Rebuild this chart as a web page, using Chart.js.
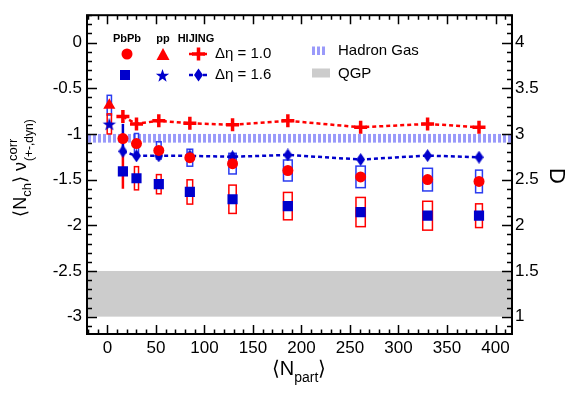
<!DOCTYPE html>
<html>
<head>
<meta charset="utf-8">
<script src="https://cdn.jsdelivr.net/npm/chart.js@4.4.1/dist/chart.umd.min.js"></script>
<style>
  html, body { margin: 0; padding: 0; background: #fff; }
</style>
</head>
<body>
<canvas id="chart" width="581" height="394"></canvas>
<script>
// centrality classes, <Npart> and its uncertainty (box half-width)
const nPart = [16, 30, 53, 85, 129, 186, 261, 330, 383];
const nPartErr = [1.5, 2.1, 2.4, 2.9, 3.8, 4.5, 4.8, 5.0, 3.5];
const ppNpart = [2];
const ppNpartErr = [2.2];

// PbPb, delta eta = 1.0 (red circles) and 1.6 (blue squares)
const pbpbEta10 = [-1.05, -1.105, -1.18, -1.26, -1.325, -1.40, -1.47, -1.50, -1.52];
const pbpbEta10Stat = [0.16, 0.02, 0.02, 0.02, 0.02, 0.02, 0.02, 0.02, 0.02];
const pbpbEta10Sys = [0, 0.11, 0.095, 0.093, 0.113, 0.115, 0.118, 0.124, 0.124];
const pbpbEta16 = [-1.41, -1.485, -1.55, -1.635, -1.715, -1.79, -1.855, -1.895, -1.895];
const pbpbEta16Stat = [0.19, 0.02, 0.02, 0.02, 0.02, 0.02, 0.02, 0.02, 0.02];
const pbpbEta16Sys = [0, 0.127, 0.105, 0.133, 0.155, 0.15, 0.16, 0.158, 0.13];

// pp
const ppEta10 = [-0.685];
const ppEta10Sys = [0.108];
const ppEta16 = [-0.89];
const ppEta16Sys = [0.11];

// HIJING
const hijingEta10 = [-0.81, -0.89, -0.855, -0.884, -0.90, -0.855, -0.927, -0.89, -0.927];
const hijingEta16 = [-1.19, -1.24, -1.24, -1.24, -1.25, -1.23, -1.28, -1.237, -1.255];

// expectations, in D (right axis)
const hadronGasD = [2.905, 3.0];
const qgpD = [1.0, 1.5];

const RED = '#ff0000';
const BLUE = '#0000cc';
const BOXBLUE = '#2a3cf0';
const FONT = "'Liberation Sans', Arial, Helvetica, sans-serif";

const pts = (xs, ys) => xs.map((v, i) => ({ x: v, y: ys[i] }));

function starCanvas(r, color) {
  const c = document.createElement('canvas');
  c.width = c.height = Math.ceil(r * 2 + 2);
  const g = c.getContext('2d');
  drawStar(g, c.width / 2, c.height / 2 + 0.8, r, color);
  return c;
}
function drawStar(g, cx, cy, r, color) {
  g.beginPath();
  for (let i = 0; i < 10; i++) {
    const rr = i % 2 ? r * 0.4 : r;
    const a = -Math.PI / 2 + i * Math.PI / 5;
    g.lineTo(cx + rr * Math.cos(a), cy + rr * Math.sin(a));
  }
  g.closePath();
  g.fillStyle = color;
  g.fill();
}
function diamondCanvas(w, h, color) {
  const c = document.createElement('canvas');
  c.width = w; c.height = h;
  const g = c.getContext('2d');
  drawDiamond(g, w / 2, h / 2, w, h, color);
  return c;
}
function drawDiamond(g, cx, cy, w, h, color) {
  g.beginPath();
  g.moveTo(cx, cy - h / 2);
  g.lineTo(cx + w / 2, cy);
  g.lineTo(cx, cy + h / 2);
  g.lineTo(cx - w / 2, cy);
  g.closePath();
  g.fillStyle = color;
  g.fill();
}

const starImg = starCanvas(7, BLUE);
const diamondImg = diamondCanvas(9, 13, BLUE);

// bands, boxes and error bars, under the markers
const underlay = {
  id: 'underlay',
  beforeDatasetsDraw(chart) {
    const ctx = chart.ctx, a = chart.chartArea;
    const x = chart.scales.x, y = chart.scales.y, y2 = chart.scales.y2;
    ctx.save();

    let t = y2.getPixelForValue(qgpD[1]), b = y2.getPixelForValue(qgpD[0]);
    ctx.fillStyle = '#cccccc';
    ctx.fillRect(a.left, t, a.right - a.left, b - t);

    t = y2.getPixelForValue(hadronGasD[1]);
    b = y2.getPixelForValue(hadronGasD[0]);
    ctx.fillStyle = '#9a9afa';
    for (let px = a.left + 1; px < a.right - 1; px += 5) {
      ctx.fillRect(px, t, 3, b - t);
    }

    function box(xv, xe, yv, ye, color) {
      if (!ye) return;
      const l = x.getPixelForValue(xv - xe), r = x.getPixelForValue(xv + xe);
      const tp = y.getPixelForValue(yv + ye), bt = y.getPixelForValue(yv - ye);
      ctx.strokeStyle = color;
      ctx.lineWidth = 1.5;
      ctx.strokeRect(l, tp, r - l, bt - tp);
    }
    function bar(xv, yv, ye, color) {
      const px = x.getPixelForValue(xv);
      ctx.strokeStyle = color;
      ctx.lineWidth = 2.5;
      ctx.beginPath();
      ctx.moveTo(px, y.getPixelForValue(yv + ye));
      ctx.lineTo(px, y.getPixelForValue(yv - ye));
      ctx.stroke();
    }
    nPart.forEach((n, i) => {
      box(n, nPartErr[i], pbpbEta10[i], pbpbEta10Sys[i], BOXBLUE);
      box(n, nPartErr[i], pbpbEta16[i], pbpbEta16Sys[i], RED);
    });
    box(ppNpart[0], ppNpartErr[0], ppEta10[0], ppEta10Sys[0], BOXBLUE);
    box(ppNpart[0], ppNpartErr[0], ppEta16[0], ppEta16Sys[0], RED);
    nPart.forEach((n, i) => {
      bar(n, pbpbEta16[i], pbpbEta16Stat[i], RED);
      bar(n, pbpbEta10[i], pbpbEta10Stat[i], BLUE);
    });
    ctx.restore();
  }
};

// frame, inward ticks, titles and legend
const overlay = {
  id: 'overlay',
  afterDraw(chart) {
    const ctx = chart.ctx, a = chart.chartArea;
    const x = chart.scales.x, y = chart.scales.y;
    ctx.save();
    ctx.strokeStyle = '#000';
    ctx.lineWidth = 1.5;
    ctx.beginPath();
    for (let k = -31; k <= 3; k++) {
      const py = Math.round(y.getPixelForValue(k / 10)) + 0.5;
      if (py < a.top || py > a.bottom) continue;
      const len = k % 5 === 0 ? 10 : 5;
      ctx.moveTo(a.left, py); ctx.lineTo(a.left + len, py);
      ctx.moveTo(a.right, py); ctx.lineTo(a.right - len, py);
    }
    for (let k = -2; k <= 41; k++) {
      const px = Math.round(x.getPixelForValue(k * 10)) + 0.5;
      if (px < a.left || px > a.right) continue;
      const len = k % 5 === 0 ? 9 : 4.5;
      ctx.moveTo(px, a.bottom); ctx.lineTo(px, a.bottom - len);
      ctx.moveTo(px, a.top); ctx.lineTo(px, a.top + len);
    }
    ctx.stroke();
    ctx.lineWidth = 2;
    ctx.strokeRect(a.left, a.top, a.right - a.left, a.bottom - a.top);

    // axis titles
    ctx.fillStyle = '#000';
    ctx.textBaseline = 'alphabetic';
    const big = '18px ' + FONT, sm = '13px ' + FONT, sm2 = '12px ' + FONT;
    ctx.font = big;
    const wOpen = ctx.measureText('\u27E8').width, wN = ctx.measureText('N').width;
    const wClose = ctx.measureText('\u27E9').width, wNu = ctx.measureText(' \u03BD').width;
    ctx.font = sm;
    const wCh = ctx.measureText('ch').width, wCorr = ctx.measureText('corr').width;
    ctx.font = sm2;
    const wDyn = ctx.measureText('(+-,dyn)').width;
    const total = wOpen + wN + wCh + wClose + wNu + 1 + Math.max(wCorr, wDyn);
    ctx.save();
    ctx.translate(26, 168);
    ctx.rotate(-Math.PI / 2);
    let cx = -total / 2;
    ctx.font = big;
    ctx.fillText('\u27E8', cx, 0); cx += wOpen;
    ctx.fillText('N', cx, 0); cx += wN;
    ctx.font = sm; ctx.fillText('ch', cx, 5); cx += wCh;
    ctx.font = big; ctx.fillText('\u27E9', cx, 0); cx += wClose;
    ctx.fillText(' \u03BD', cx, 0); cx += wNu + 1;
    ctx.font = sm; ctx.fillText('corr', cx, -9);
    ctx.font = sm2; ctx.fillText('(+-,dyn)', cx, 7);
    ctx.restore();

    const b2 = '20px ' + FONT, s2 = '14px ' + FONT;
    ctx.font = b2;
    const o2 = ctx.measureText('\u27E8N').width, c2 = ctx.measureText('\u27E9').width;
    ctx.font = s2;
    const p2 = ctx.measureText('part').width;
    let bx = 299 - (o2 + p2 + c2) / 2;
    ctx.font = b2; ctx.fillText('\u27E8N', bx, 375); bx += o2;
    ctx.font = s2; ctx.fillText('part', bx, 382); bx += p2;
    ctx.font = b2; ctx.fillText('\u27E9', bx, 375);

    ctx.save();
    ctx.translate(556, 176);
    ctx.rotate(Math.PI / 2);
    ctx.font = '22px ' + FONT;
    ctx.textAlign = 'center';
    ctx.textBaseline = 'middle';
    ctx.fillText('D', 0, 0);
    ctx.restore();

    // legend
    ctx.textAlign = 'center';
    ctx.textBaseline = 'middle';
    ctx.font = 'bold 11px ' + FONT;
    ctx.fillText('PbPb', 127, 39);
    ctx.fillText('pp', 163, 39);
    ctx.fillText('HIJING', 196, 39);

    ctx.fillStyle = RED;
    ctx.beginPath(); ctx.arc(127, 54, 5.5, 0, Math.PI * 2); ctx.fill();
    ctx.beginPath();
    ctx.moveTo(163, 48); ctx.lineTo(169.5, 60); ctx.lineTo(156.5, 60); ctx.closePath(); ctx.fill();
    ctx.fillStyle = BLUE;
    ctx.fillRect(120, 70, 10, 10);
    drawStar(ctx, 162.5, 76, 7, BLUE);

    ctx.lineWidth = 2.5;
    ctx.setLineDash([4, 3]);
    ctx.strokeStyle = RED;
    ctx.beginPath(); ctx.moveTo(189, 54); ctx.lineTo(210, 54); ctx.stroke();
    ctx.strokeStyle = BLUE;
    ctx.beginPath(); ctx.moveTo(189, 75); ctx.lineTo(210, 75); ctx.stroke();
    ctx.setLineDash([]);
    ctx.strokeStyle = RED;
    ctx.lineWidth = 3.5;
    ctx.beginPath();
    ctx.moveTo(192, 54); ctx.lineTo(205, 54);
    ctx.moveTo(198.5, 47.5); ctx.lineTo(198.5, 60.5);
    ctx.stroke();
    drawDiamond(ctx, 198.5, 75, 9, 13, BLUE);

    ctx.fillStyle = '#000';
    ctx.textAlign = 'left';
    ctx.font = '15px ' + FONT;
    ctx.fillText('\u0394\u03B7 = 1.0', 215, 54);
    ctx.fillText('\u0394\u03B7 = 1.6', 215, 75);
    ctx.fillText('Hadron Gas', 338, 51);
    ctx.fillText('QGP', 338, 73.5);

    ctx.fillStyle = '#9a9afa';
    for (let px = 312; px < 327; px += 5) ctx.fillRect(px, 46.5, 3, 8.5);
    ctx.fillStyle = '#cccccc';
    ctx.fillRect(312, 68.5, 18, 9);
    ctx.restore();
  }
};

Chart.defaults.font.family = FONT;
Chart.defaults.font.size = 17;
Chart.defaults.color = '#000';

const tickFmt = v => String(+v.toFixed(1));

new Chart(document.getElementById('chart'), {
  type: 'scatter',
  data: {
    datasets: [
      {
        label: 'PbPb eta 1.0',
        data: pts(nPart, pbpbEta10),
        pointStyle: 'circle', pointRadius: 5.5,
        backgroundColor: RED, borderColor: RED, pointBorderWidth: 0
      },
      {
        label: 'PbPb eta 1.6',
        data: pts(nPart, pbpbEta16),
        pointStyle: 'rect', pointRadius: 7.2,
        backgroundColor: BLUE, borderColor: BLUE, pointBorderWidth: 0
      },
      {
        label: 'pp eta 1.0',
        data: pts(ppNpart, ppEta10),
        pointStyle: 'triangle', pointRadius: 7,
        backgroundColor: RED, borderColor: RED, pointBorderWidth: 0
      },
      {
        label: 'pp eta 1.6',
        data: pts(ppNpart, ppEta16),
        pointStyle: starImg
      },
      {
        label: 'HIJING eta 1.6',
        data: pts(nPart, hijingEta16),
        showLine: true,
        borderColor: BLUE, borderWidth: 2.5, borderDash: [4, 3],
        pointStyle: diamondImg
      },
      {
        label: 'HIJING eta 1.0',
        data: pts(nPart, hijingEta10),
        showLine: true,
        borderColor: RED, borderWidth: 2.5, borderDash: [4, 3],
        pointStyle: 'cross', pointRadius: 6.5, pointBorderWidth: 3.5,
        pointBorderColor: RED
      }
    ]
  },
  options: {
    responsive: false,
    animation: false,
    devicePixelRatio: 1,
    layout: { padding: { top: 15, left: 0, right: 0, bottom: 0 } },
    plugins: { legend: { display: false }, tooltip: { enabled: false } },
    scales: {
      x: {
        type: 'linear', min: -21, max: 417,
        afterFit: s => { s.height = 60; },
        ticks: { stepSize: 50, includeBounds: false, padding: 4, maxRotation: 0, autoSkip: false, callback: tickFmt },
        grid: { display: false, drawTicks: false },
        border: { display: false }
      },
      y: {
        position: 'left', min: -3.19, max: 0.3,
        afterFit: s => { s.width = 87; },
        ticks: { stepSize: 0.5, includeBounds: false, padding: 5, autoSkip: false, callback: tickFmt },
        grid: { display: false, drawTicks: false },
        border: { display: false }
      },
      y2: {
        position: 'right', min: 0.81, max: 4.3,
        afterFit: s => { s.width = 69; },
        ticks: { stepSize: 0.5, includeBounds: false, padding: 3, autoSkip: false, callback: tickFmt },
        grid: { display: false, drawTicks: false },
        border: { display: false }
      }
    }
  },
  plugins: [underlay, overlay]
});
</script>
</body>
</html>
